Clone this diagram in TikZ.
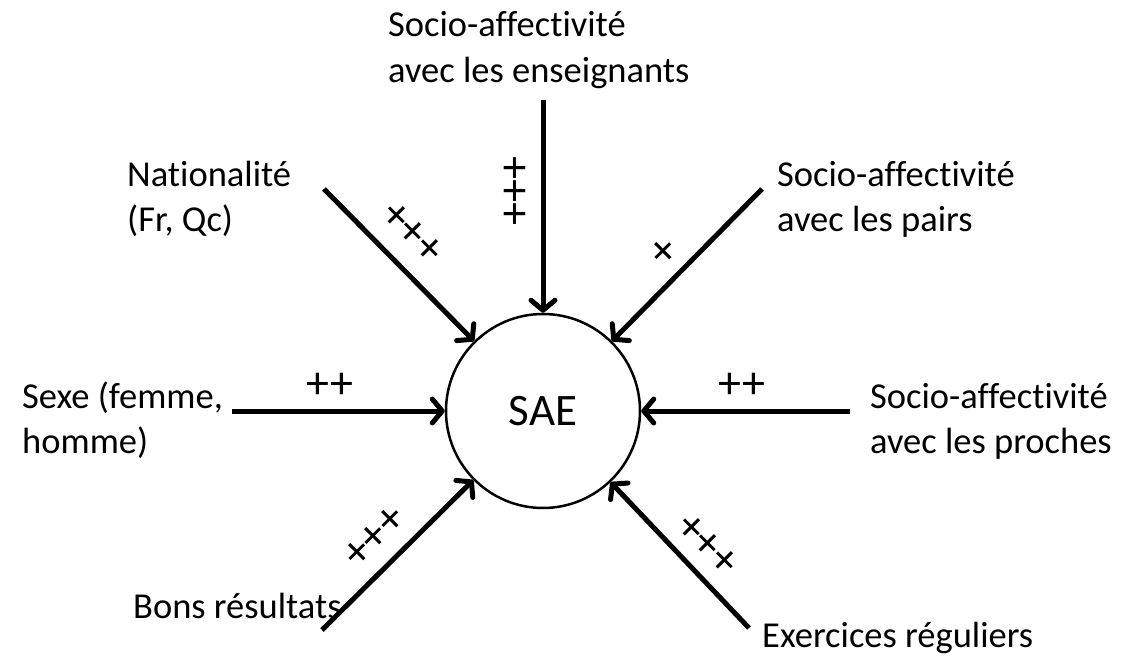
\documentclass[tikz,border=0pt]{standalone}
\usepackage{fontspec}
\setmainfont[Ligatures={NoCommon}]{Carlito}
\usetikzlibrary{arrows.meta}
\begin{document}
\begin{tikzpicture}[x=1pt,y=-1pt,
  lbl/.style={align=left,anchor=base west,inner sep=0pt,font=\fontsize{36.5}{45}\selectfont},
  conn/.style={line width=5pt,-{Straight Barb[length=10pt,width=24pt,line cap=round,line join=round]}},
  sgn/.style={inner sep=0pt,font=\fontsize{46}{46}\selectfont}]
\useasboundingbox (0,0) rectangle (1128,658);
\node[circle,draw,line width=2.5pt,minimum size=194pt,inner sep=0pt,font=\fontsize{45}{45}\selectfont] (sae) at (543,411) {SAE};

% base anchor = baseline of the last line
\node[lbl,font=\fontsize{36.5}{46}\selectfont] (ens) at (388,83) {Socio-affectivité\\avec les enseignants};
\node[lbl] (nat) at (127,231) {Nationalité\\(Fr, Qc)};
\node[lbl] (pai) at (777,231) {Socio-affectivité\\avec les pairs};
\node[lbl] (sex) at (22,453) {Sexe (femme,\\homme)};
\node[lbl] (pro) at (870,453) {Socio-affectivité\\avec les proches};
\node[lbl] (bon) at (133,618) {Bons résultats};
\node[lbl] (exe) at (762,647) {Exercices réguliers};

\coordinate (cens) at (543,100);
\coordinate (cnat) at (324,189);
\coordinate (cpai) at (762,189);
\coordinate (csex) at (232,411);
\coordinate (cpro) at (850,411);
\coordinate (cbon) at (322,630);
\coordinate (cexe) at (749,628);

\foreach \c in {cens,cnat,cpai,csex,cpro,cbon,cexe}
  \draw[conn] (\c) -- (sae);

\node[sgn,rotate=90] (pens) at (517,191) {+++};
\node[sgn,rotate=-45] (pnat) at (412,233) {+++};
\node[sgn,rotate=45] (ppai) at (665,252) {+};
\node[sgn] (psex) at (330,386) {++};
\node[sgn] (ppro) at (742,386) {++};
\node[sgn,rotate=45] (pbon) at (375,537) {+++};
\node[sgn,rotate=-45] (pexe) at (707,545) {+++};
\end{tikzpicture}
\end{document}
